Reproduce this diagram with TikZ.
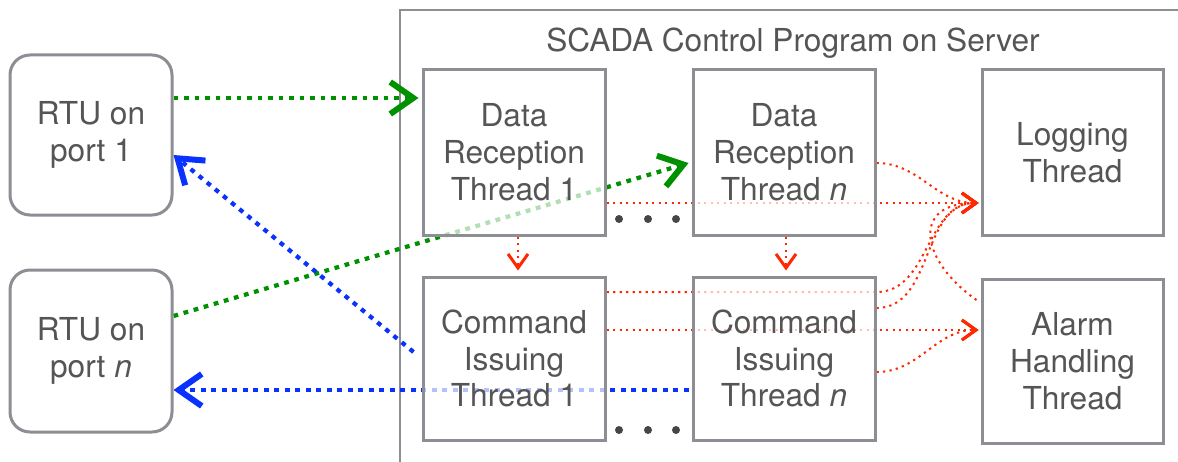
\documentclass[tikz,border=0pt]{standalone}
\usepackage{fontspec}
\setmainfont{TeX Gyre Heros}
\usetikzlibrary{arrows.meta}
\pgfdeclarelayer{background}
\pgfsetlayers{background,main}
\definecolor{boxgray}{RGB}{140,142,147}
\definecolor{textgray}{RGB}{85,85,85}
\definecolor{dotgray}{RGB}{70,70,70}
\definecolor{rxgreen}{RGB}{0,145,0}
\definecolor{txblue}{RGB}{10,50,255}
\definecolor{logred}{RGB}{255,40,0}
\tikzset{
   thread/.style   = {rectangle, draw=boxgray, line width=0.6mm, fill=white,
                      fill opacity=0.7, text opacity=1, text=textgray, align=center,
                      font=\fontsize{18}{21}\selectfont, inner sep=0pt,
                      minimum width=36.4mm, minimum height=33mm},
   rtu/.style      = {thread, rounded corners=4mm, minimum width=32.4mm, minimum height=32mm},
   dataarrow/.style = {line width=0.85mm, dash pattern=on 0.95mm off 1.15mm, draw=rxgreen,
                      -{Straight Barb[length=4.6mm,width=6.4mm,line width=1.2mm]}},
   cmdarrow/.style  = {dataarrow, draw=txblue},
   msgarrow/.style  = {line width=0.4mm, dash pattern=on 0.45mm off 0.85mm, draw=logred,
                      -{Straight Barb[length=2.8mm,width=4mm,line width=0.6mm]}},
}
\begin{document}
\begin{tikzpicture}

      \useasboundingbox (0mm,0mm) rectangle (235.6mm,-92.4mm);

      % RTUs
      \node[rtu] (rtuone) at (18.2mm,-27mm) {RTU on\\port 1};
      \node[rtu, minimum height=32.4mm] (rtun) at (18.2mm,-70.2mm) {RTU on\\port \textit{n}};

      % server threads
      \node[text=textgray, font=\fontsize{18}{21}\selectfont] (title) at (158.6mm,-8.6mm)
         {SCADA Control Program on Server};
      \node[thread] (drtone) at (102.8mm,-30.5mm) {Data\\Reception\\Thread 1};
      \node[thread] (drtn) at (156.8mm,-30.5mm) {Data\\Reception\\Thread \textit{n}};
      \node[thread, minimum width=36.2mm] (logging) at (214.5mm,-30.5mm) {Logging\\Thread};
      \node[thread, minimum height=32.6mm] (citone) at (102.8mm,-71.7mm) {Command\\Issuing\\Thread 1};
      \node[thread, minimum height=32.6mm] (citn) at (156.8mm,-71.7mm) {Command\\Issuing\\Thread \textit{n}};
      \node[thread, minimum width=36.2mm, minimum height=32.8mm] (alarm) at (214.5mm,-72.2mm)
         {Alarm\\Handling\\Thread};

      \foreach \x in {123.8,129.6,135.2} {
         \fill[dotgray] (\x mm,-43.8mm) circle (0.8mm);
         \fill[dotgray] (\x mm,-86mm) circle (0.8mm);
      }

      \begin{pgfonlayer}{background}
      \draw[boxgray, line width=0.5mm] (80mm,-92.4mm) |- (235.6mm,-2mm);

      \draw[dataarrow] ([yshift=7.4mm]rtuone.east)  -- ([xshift=-0.6mm,yshift=10.9mm]drtone.west);
      \draw[dataarrow] ([yshift=7mm]rtun.east)      -- ([xshift=-0.6mm,yshift=-2.1mm]drtn.west);
      \draw[cmdarrow]  ([xshift=-1.6mm,yshift=1.3mm]citone.west) -- ([yshift=-4mm]rtuone.east);
      \draw[cmdarrow]  ([xshift=-0.6mm,yshift=-6.3mm]citn.west)  -- ([yshift=-7.8mm]rtun.east);

      \draw[msgarrow] ([xshift=0.8mm]drtone.south) -- ([xshift=0.8mm,yshift=1mm]citone.north);
      \draw[msgarrow] ([xshift=0.4mm]drtn.south)   -- ([xshift=0.4mm,yshift=1mm]citn.north);
      \draw[msgarrow] ([yshift=-10.1mm]drtone.east) -- ([xshift=-0.4mm,yshift=-10.1mm]logging.west);
      \draw[msgarrow] ([yshift=-2.1mm]drtn.east) to[out=0,in=180]
         ([xshift=-0.4mm,yshift=-10.1mm]logging.west);
      \draw[msgarrow] ([yshift=13.3mm]citone.east) -- ++(54mm,0) to[out=0,in=180]
         ([xshift=-0.4mm,yshift=-10.1mm]logging.west);
      \draw[msgarrow] ([yshift=10.1mm]citn.east) to[out=0,in=180]
         ([xshift=-0.4mm,yshift=-10.1mm]logging.west);
      \draw[msgarrow] ([xshift=-0.8mm,yshift=12.2mm]alarm.west) to[out=145,in=180,looseness=1.8]
         ([xshift=-0.4mm,yshift=-10.1mm]logging.west);
      \draw[msgarrow] ([yshift=5.7mm]citone.east) -- ([xshift=-0.4mm,yshift=6.2mm]alarm.west);
      \draw[msgarrow] ([yshift=-2.7mm]citn.east) to[out=0,in=180]
         ([xshift=-0.4mm,yshift=6.2mm]alarm.west);
      \end{pgfonlayer}
   \end{tikzpicture}
\end{document}
